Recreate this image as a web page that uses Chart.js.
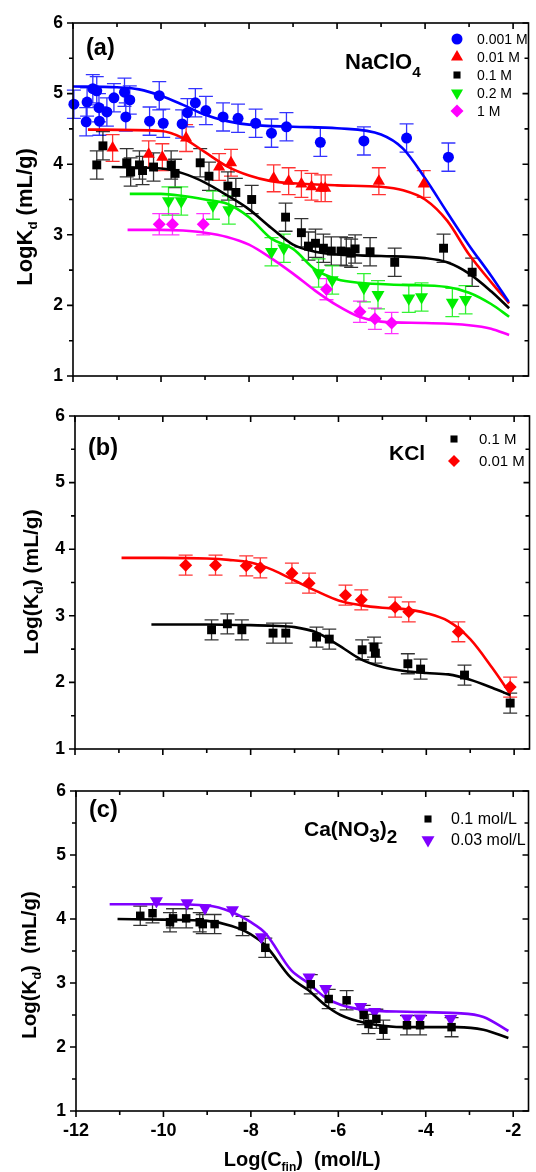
<!DOCTYPE html>
<html>
<head>
<meta charset="utf-8">
<script src="https://cdn.jsdelivr.net/npm/chart.js@4.4.1/dist/chart.umd.min.js"></script>
<style>
  html, body { margin: 0; padding: 0; background: #fff; }
  #wrap { position: relative; width: 536px; height: 1172px; }
  canvas { position: absolute; left: 0; }
</style>
</head>
<body>
<div id="wrap">
  <canvas id="panelA" width="536" height="385" style="top:0"></canvas>
  <canvas id="panelB" width="536" height="375" style="top:385px"></canvas>
  <canvas id="panelC" width="536" height="412" style="top:760px"></canvas>
</div>
<script>
// axis ticks shared by all three panels
const xTicks = [-12, -11, -10, -9, -8, -7, -6, -5, -4, -3, -2];
const yTicks = [1, 1.5, 2, 2.5, 3, 3.5, 4, 4.5, 5, 5.5, 6];

// (a) NaClO4 - measured points
const naX0001 = [-11.98, -11.70, -11.68, -11.55, -11.46, -11.41, -11.40, -11.23, -11.07, -10.83, -10.80, -10.71, -10.26, -10.04, -9.95, -9.52, -9.40, -9.22, -8.98, -8.59, -8.25, -7.85, -7.49, -7.15, -6.38, -5.39, -4.42, -3.47];
const naY0001 = [4.85, 4.60, 4.88, 5.07, 5.04, 4.80, 4.61, 4.74, 4.94, 5.02, 4.67, 4.91, 4.61, 4.97, 4.58, 4.57, 4.73, 4.87, 4.76, 4.67, 4.65, 4.58, 4.44, 4.53, 4.31, 4.33, 4.37, 4.10];
const naX001 = [-11.10, -10.28, -9.97, -9.43, -8.68, -8.41, -7.44, -7.10, -6.81, -6.58, -6.36, -6.27, -5.05, -4.03];
const naY001 = [4.23, 4.14, 4.10, 4.37, 3.96, 4.02, 3.80, 3.76, 3.72, 3.68, 3.66, 3.66, 3.76, 3.72];
const naX01 = [-11.46, -11.32, -10.78, -10.69, -10.49, -10.42, -10.17, -9.77, -9.68, -9.11, -8.91, -8.48, -8.30, -7.94, -7.17, -6.81, -6.65, -6.49, -6.31, -6.13, -5.91, -5.79, -5.68, -5.59, -5.25, -4.69, -3.58, -2.93];
const naY01 = [3.99, 4.26, 4.02, 3.89, 3.99, 3.91, 3.96, 3.99, 3.87, 4.02, 3.83, 3.69, 3.60, 3.50, 3.25, 3.03, 2.84, 2.88, 2.81, 2.77, 2.77, 2.76, 2.74, 2.80, 2.76, 2.61, 2.81, 2.47];
const naX02 = [-9.83, -9.54, -8.82, -8.46, -7.49, -7.21, -6.42, -6.11, -5.39, -5.07, -4.37, -4.08, -3.38, -3.08];
const naY02 = [3.48, 3.48, 3.42, 3.35, 2.76, 2.81, 2.46, 2.36, 2.25, 2.15, 2.10, 2.12, 2.04, 2.08];
const naX1 = [-10.04, -9.74, -9.04, -6.24, -5.48, -5.14, -4.76];
const naY1 = [3.15, 3.15, 3.15, 2.23, 1.91, 1.81, 1.75];
const naErr = [0.2, 0.19, 0.2, 0.2, 0.15];

// (a) NaClO4 - model curves
const fitX0001 = [-12, -11, -10.5, -10, -9.5, -9, -8.5, -8, -7, -6, -5, -4.5, -4, -3.5, -3, -2.5, -2.1];
const fitY0001 = [5.10, 5.09, 5.06, 4.97, 4.84, 4.70, 4.61, 4.56, 4.53, 4.51, 4.42, 4.22, 3.80, 3.32, 2.85, 2.42, 2.05];
const fitX001 = [-11.66, -10, -9.5, -9, -8.5, -8, -7.5, -7, -6, -5, -4.5, -4, -3.5, -3, -2.5, -2.09];
const fitY001 = [4.49, 4.47, 4.37, 4.17, 3.97, 3.84, 3.76, 3.73, 3.70, 3.68, 3.63, 3.50, 3.20, 2.72, 2.33, 2.03];
const fitX01 = [-11.12, -10, -9.5, -9, -8.5, -8, -7.5, -7, -6.5, -6, -5, -4, -3.5, -3, -2.5, -2.09];
const fitY01 = [3.96, 3.94, 3.87, 3.74, 3.56, 3.36, 3.10, 2.86, 2.76, 2.72, 2.70, 2.67, 2.61, 2.45, 2.20, 1.96];
const fitX02 = [-10.71, -10, -9.5, -9, -8.5, -8, -7.5, -7, -6.5, -6, -5.5, -4.5, -3.5, -3, -2.5, -2.09];
const fitY02 = [3.58, 3.58, 3.55, 3.50, 3.44, 3.25, 2.95, 2.80, 2.51, 2.37, 2.32, 2.29, 2.26, 2.18, 2.02, 1.84];
const fitX1 = [-10.76, -10, -9.5, -9, -8.5, -8, -7.5, -7, -6.5, -6, -5.5, -5, -4, -3, -2.5, -2.09];
const fitY1 = [3.07, 3.07, 3.06, 3.03, 2.97, 2.86, 2.67, 2.45, 2.21, 2.00, 1.84, 1.77, 1.75, 1.72, 1.67, 1.58];

// (b) KCl
const kX001 = [-9.48, -8.80, -8.10, -7.78, -7.06, -6.67, -5.84, -5.48, -4.71, -4.40, -3.27, -2.09];
const kY001 = [3.76, 3.76, 3.75, 3.72, 3.64, 3.49, 3.31, 3.24, 3.13, 3.06, 2.76, 1.93];
const kX01 = [-8.89, -8.53, -8.20, -7.49, -7.20, -6.50, -6.21, -5.46, -5.19, -5.16, -4.42, -4.13, -3.13, -2.09];
const kY01 = [2.79, 2.88, 2.79, 2.74, 2.74, 2.68, 2.65, 2.49, 2.53, 2.44, 2.28, 2.20, 2.11, 1.69];
const kErr = [0.15, 0.15];
const kFitX001 = [-10.94, -10, -9, -8.5, -8, -7.5, -7, -6.5, -6, -5.5, -5, -4.5, -4, -3.5, -3, -2.5, -2.09];
const kFitY001 = [3.87, 3.87, 3.86, 3.84, 3.80, 3.69, 3.53, 3.37, 3.23, 3.16, 3.12, 3.10, 3.04, 2.92, 2.65, 2.22, 1.83];
const kFitX01 = [-10.26, -9, -8, -7.5, -7, -6.5, -6, -5.5, -5, -4.5, -4, -3.5, -3, -2.5, -2.09];
const kFitY01 = [2.87, 2.87, 2.86, 2.85, 2.83, 2.75, 2.56, 2.35, 2.23, 2.17, 2.14, 2.12, 2.04, 1.92, 1.81];

// (c) Ca(NO3)2
const caX01 = [-10.53, -10.25, -9.85, -9.78, -9.48, -9.17, -9.10, -8.83, -8.19, -7.67, -6.63, -6.22, -5.81, -5.42, -5.31, -5.13, -4.97, -4.43, -4.13, -3.41];
const caY01 = [4.05, 4.09, 3.95, 4.01, 4.01, 3.95, 3.92, 3.92, 3.89, 3.55, 2.98, 2.75, 2.73, 2.50, 2.36, 2.44, 2.27, 2.34, 2.34, 2.31];
const caX003 = [-10.16, -9.46, -9.05, -8.42, -7.76, -6.67, -6.29, -5.49, -5.17, -4.43, -4.13, -3.43];
const caY003 = [4.28, 4.25, 4.17, 4.14, 3.72, 3.09, 2.91, 2.63, 2.55, 2.45, 2.45, 2.44];
const caErr = [0.15, 0];
const caFitX003 = [-11.23, -10, -9, -8.44, -8, -7.67, -7.08, -6.69, -6.31, -5.95, -5.40, -4.43, -3.29, -2.68, -2.11];
const caFitY003 = [4.23, 4.23, 4.21, 4.11, 3.95, 3.78, 3.20, 3.00, 2.78, 2.66, 2.58, 2.55, 2.53, 2.47, 2.25];
const caFitX01 = [-11.05, -10, -9, -8.44, -8, -7.67, -7.08, -6.69, -6.31, -5.95, -5.40, -4.43, -3.29, -2.68, -2.11];
const caFitY01 = [4.00, 3.99, 3.97, 3.89, 3.76, 3.59, 3.08, 2.89, 2.66, 2.50, 2.38, 2.31, 2.31, 2.27, 2.14];

const FONT = '"Liberation Sans", Arial, sans-serif';
Chart.defaults.font.family = FONT;
Chart.defaults.color = '#000';

const zip = (xs, ys) => xs.map((x, i) => ({ x, y: ys[i] }));

function points(label, xs, ys, color, style, radius, err, rotation) {
  return {
    label, data: zip(xs, ys), showLine: false, clip: false,
    pointStyle: style, pointRadius: radius, pointRotation: rotation || 0,
    pointBackgroundColor: color, pointBorderColor: color, pointBorderWidth: 0,
    errY: err, errColor: color, order: 0
  };
}

function curve(xs, ys, color) {
  return {
    data: zip(xs, ys), showLine: true, pointRadius: 0, borderColor: color,
    borderWidth: 2.6, cubicInterpolationMode: 'monotone', fill: false, order: 1
  };
}

// text with subscript runs: [text, scale, dy]
function drawRich(ctx, runs, x, y, size, center, rotate) {
  ctx.save();
  ctx.translate(x, y);
  if (rotate) ctx.rotate(-Math.PI / 2);
  ctx.fillStyle = '#000';
  ctx.textBaseline = 'alphabetic';
  ctx.textAlign = 'left';
  const widths = runs.map(([t, k = 1]) => {
    ctx.font = 'bold ' + size * k + 'px ' + FONT;
    return ctx.measureText(t).width;
  });
  const total = widths.reduce((a, b) => a + b, 0);
  let cx = center ? -total / 2 : 0;
  runs.forEach(([t, k = 1, dy = 0], i) => {
    ctx.font = 'bold ' + size * k + 'px ' + FONT;
    ctx.fillText(t, cx, dy);
    cx += widths[i];
  });
  ctx.restore();
}

const errorBars = {
  id: 'errorBars',
  beforeDatasetsDraw(chart) {
    const { ctx, scales: { x, y } } = chart;
    ctx.save();
    ctx.lineWidth = 1.3;
    chart.data.datasets.forEach(ds => {
      if (!ds.errY) return;
      ctx.strokeStyle = ds.errColor;
      ctx.globalAlpha = 0.8;
      ctx.beginPath();
      ds.data.forEach(p => {
        const px = x.getPixelForValue(p.x);
        const top = y.getPixelForValue(p.y + ds.errY);
        const bot = y.getPixelForValue(p.y - ds.errY);
        ctx.moveTo(px, top); ctx.lineTo(px, bot);
        ctx.moveTo(px - 7, top); ctx.lineTo(px + 7, top);
        ctx.moveTo(px - 7, bot); ctx.lineTo(px + 7, bot);
      });
      ctx.stroke();
    });
    ctx.restore();
  }
};

const frame = {
  id: 'frame',
  afterDatasetsDraw(chart) {
    const { ctx, chartArea: a, scales: { x, y } } = chart;
    ctx.save();
    ctx.strokeStyle = '#000';
    ctx.lineWidth = 1.6;
    ctx.strokeRect(a.left, a.top, a.right - a.left, a.bottom - a.top);
    ctx.beginPath();
    xTicks.forEach(v => {
      const px = x.getPixelForValue(v);
      const len = v % 2 === 0 ? 6 : 4;
      ctx.moveTo(px, a.bottom); ctx.lineTo(px, a.bottom + len);
      ctx.moveTo(px, a.top); ctx.lineTo(px, a.top + len);
    });
    yTicks.forEach(v => {
      const py = y.getPixelForValue(v);
      const len = v % 1 === 0 ? 6 : 4;
      ctx.moveTo(a.left, py); ctx.lineTo(a.left - len, py);
      ctx.moveTo(a.right, py); ctx.lineTo(a.right - len, py);
    });
    ctx.stroke();
    ctx.restore();
  }
};

function drawMarker(ctx, style, x, y, r, color, rotation) {
  ctx.save();
  ctx.fillStyle = color;
  Chart.helpers.drawPoint(ctx, { pointStyle: style, radius: r, rotation: rotation || 0, borderWidth: 0 }, x, y);
  ctx.restore();
}

const annotations = {
  id: 'annotations',
  afterDraw(chart, args, o) {
    const { ctx, chartArea: a } = chart;
    drawRich(ctx, [[o.tag]], a.left + 13, a.top + o.tagDy, 23.5, false, false);
    drawRich(ctx, o.salt, o.saltX, a.top + o.saltDy, o.saltSize, false, false);
    drawRich(ctx, o.yTitle, o.yTitleX, o.yTitleY, o.yTitleSize, true, true);
    if (o.xTitle) drawRich(ctx, o.xTitle, (a.left + a.right) / 2, o.xTitleY, 20, true, false);
    ctx.save();
    ctx.font = o.legendSize + 'px ' + FONT;
    ctx.textBaseline = 'middle';
    o.legend.forEach((it, i) => {
      const ly = a.top + o.legendDy + i * o.legendStep;
      drawMarker(ctx, it.style, o.legendX, ly, it.r, it.color, it.rot);
      ctx.fillStyle = '#000';
      ctx.fillText(it.text, o.legendX + o.legendGap, ly + 1);
    });
    ctx.restore();
  }
};

function makePanel(id, cfg) {
  const canvas = document.getElementById(id);
  return new Chart(canvas, {
    type: 'scatter',
    data: { datasets: cfg.datasets },
    options: {
      responsive: false,
      animation: false,
      devicePixelRatio: 1,
      layout: { padding: { top: cfg.top, right: 4, left: 0, bottom: 0 } },
      scales: {
        x: {
          type: 'linear', min: -12, max: -1.65,
          border: { display: false },
          grid: { display: false, drawTicks: false },
          ticks: {
            display: cfg.xLabels, stepSize: 2, includeBounds: false, padding: 9,
            font: { size: 18, weight: 'bold' }, callback: v => String(v)
          },
          afterFit(s) { s.height = cfg.bottomSpace; s.paddingLeft = 0; s.paddingRight = 0; }
        },
        y: {
          type: 'linear', min: 1, max: 6,
          border: { display: false },
          grid: { display: false, drawTicks: false },
          ticks: { stepSize: 1, padding: 10, font: { size: 17.5, weight: 'bold' }, callback: v => String(v) },
          // labels at 1 and 6 may overhang the plot; keep the plot box where it is
          afterFit(s) { s.width = cfg.left; s.paddingTop = 0; s.paddingBottom = 0; }
        }
      },
      plugins: {
        legend: { display: false },
        tooltip: { enabled: false },
        annotations: cfg.notes
      }
    },
    plugins: [errorBars, frame, annotations]
  });
}

const BLUE = '#0000ff', RED = '#ff0000', GREEN = '#00ee00', MAGENTA = '#ff00ff', PURPLE = '#7f00ff', BLACK = '#000000';

makePanel('panelA', {
  top: 23, left: 73, bottomSpace: 9, xLabels: false,
  datasets: [
    points('0.001 M', naX0001, naY0001, BLUE, 'circle', 5.5, naErr[0]),
    points('0.01 M', naX001, naY001, RED, 'triangle', 7, naErr[1]),
    points('0.1 M', naX01, naY01, BLACK, 'rect', 6.3, naErr[2]),
    points('0.2 M', naX02, naY02, GREEN, 'triangle', 7.5, naErr[3], 180),
    points('1 M', naX1, naY1, MAGENTA, 'rectRot', 6.5, naErr[4]),
    curve(fitX0001, fitY0001, BLUE),
    curve(fitX001, fitY001, RED),
    curve(fitX01, fitY01, BLACK),
    curve(fitX02, fitY02, GREEN),
    curve(fitX1, fitY1, MAGENTA)
  ],
  notes: {
    tag: '(a)', tagDy: 32,
    salt: [['NaClO'], ['4', 0.7, 8]], saltX: 345, saltDy: 46, saltSize: 22,
    yTitle: [['LogK'], ['d', 0.6, 5], [' (mL/g)']], yTitleX: 32, yTitleY: 217, yTitleSize: 22,
    legendX: 457, legendGap: 20, legendDy: 16, legendStep: 18, legendSize: 14,
    legend: [
      { text: '0.001 M', style: 'circle', r: 5.5, color: BLUE },
      { text: '0.01 M', style: 'triangle', r: 7, color: RED },
      { text: '0.1 M', style: 'rect', r: 5, color: BLACK },
      { text: '0.2 M', style: 'triangle', r: 7, color: GREEN, rot: 180 },
      { text: '1 M', style: 'rectRot', r: 6.5, color: MAGENTA }
    ]
  }
});

makePanel('panelB', {
  top: 31, left: 75, bottomSpace: 11, xLabels: false,
  datasets: [
    points('0.1 M', kX01, kY01, BLACK, 'rect', 6.3, kErr[0]),
    points('0.01 M', kX001, kY001, RED, 'rectRot', 6.5, kErr[1]),
    curve(kFitX01, kFitY01, BLACK),
    curve(kFitX001, kFitY001, RED)
  ],
  notes: {
    tag: '(b)', tagDy: 39,
    salt: [['KCl']], saltX: 389, saltDy: 44, saltSize: 21,
    yTitle: [['Log(K'], ['d', 0.6, 5], [') (mL/g)']], yTitleX: 38, yTitleY: 197, yTitleSize: 21,
    legendX: 454, legendGap: 25, legendDy: 23, legendStep: 22, legendSize: 15,
    legend: [
      { text: '0.1 M', style: 'rect', r: 5, color: BLACK },
      { text: '0.01 M', style: 'rectRot', r: 6, color: RED }
    ]
  }
});

makePanel('panelC', {
  top: 31, left: 76, bottomSpace: 61, xLabels: true,
  datasets: [
    points('0.1 mol/L', caX01, caY01, BLACK, 'rect', 6, caErr[0]),
    points('0.03 mol/L', caX003, caY003, PURPLE, 'triangle', 7.5, caErr[1], 180),
    curve(caFitX01, caFitY01, BLACK),
    curve(caFitX003, caFitY003, PURPLE)
  ],
  notes: {
    tag: '(c)', tagDy: 26,
    salt: [['Ca(NO'], ['3', 0.9, 6], [')'], ['2', 0.9, 7]], saltX: 304, saltDy: 45, saltSize: 21,
    yTitle: [['Log(K'], ['d', 0.6, 5], [')  (mL/g)']], yTitleX: 36, yTitleY: 205, yTitleSize: 20.5,
    xTitle: [['Log(C'], ['fin', 0.6, 5], [')  (mol/L)']], xTitleY: 406,
    legendX: 428, legendGap: 23, legendDy: 28, legendStep: 21, legendSize: 16,
    legend: [
      { text: '0.1 mol/L', style: 'rect', r: 5, color: BLACK },
      { text: '0.03 mol/L', style: 'triangle', r: 7.5, color: PURPLE, rot: 180 }
    ]
  }
});
</script>
</body>
</html>
